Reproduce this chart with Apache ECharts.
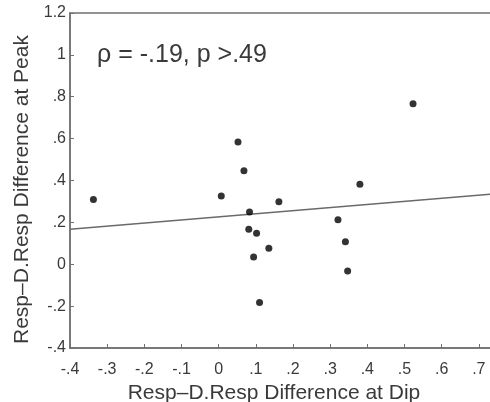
<!DOCTYPE html>
<html><head><meta charset="utf-8">
<script src="https://cdn.jsdelivr.net/npm/echarts@6/dist/echarts.min.js"></script>
<style>html,body{margin:0;padding:0;background:#fff}#c{width:490px;height:402px}</style>
</head><body><div id="c"></div>
<script>
const dipX = [-0.337, 0.007, 0.052, 0.068, 0.083, 0.081, 0.102, 0.094, 0.135, 0.110, 0.162, 0.321, 0.341, 0.347, 0.380, 0.523];
const peakY = [0.309, 0.326, 0.584, 0.447, 0.250, 0.167, 0.148, 0.035, 0.076, -0.183, 0.298, 0.212, 0.107, -0.032, 0.382, 0.766];
const fitX = [-0.4, 0.8];
const fitY = [0.167, 0.345];
const annotation = 'ρ = -.19, p >.49';
const xTitle = 'Resp–D.Resp Difference at Dip';
const yTitle = 'Resp–D.Resp Difference at Peak';

const fmt = v => {
  const r = Math.round(v * 10) / 10;
  if (r === 0) return '0';
  return String(r).replace('0.', '.');
};
const gray = '#707070';
const txt = '#3a3a3a';
const font = 'Liberation Sans, Arial, sans-serif';
const chart = echarts.init(document.getElementById('c'), null, {renderer: 'canvas'});
chart.setOption({
  animation: false,
  backgroundColor: '#fff',
  grid: {left: 70, top: 13, bottom: 54, right: -26, outerBoundsMode: 'none', containLabel: false,
         show: true, borderColor: gray, borderWidth: 1.5, backgroundColor: 'transparent'},
  xAxis: {
    type: 'value', min: -0.4, max: 0.8, interval: 0.1,
    name: xTitle, nameLocation: 'middle', nameGap: 27,
    nameTextStyle: {fontFamily: font, fontSize: 21, color: txt, padding: [0, 38, 0, 0]},
    axisLine: {show: true, onZero: false, lineStyle: {color: gray, width: 1.5}},
    axisTick: {show: true, inside: true, length: 4, lineStyle: {color: gray}},
    axisLabel: {formatter: fmt, fontFamily: font, fontSize: 16, color: txt, margin: 14},
    splitLine: {show: false}
  },
  yAxis: {
    type: 'value', min: -0.4, max: 1.2, interval: 0.2,
    name: yTitle, nameLocation: 'middle', nameGap: 37,
    nameTextStyle: {fontFamily: font, fontSize: 21, color: txt, padding: [0, 18, 0, 0]},
    axisLine: {show: true, onZero: false, lineStyle: {color: gray, width: 1.5}},
    axisTick: {show: true, inside: true, length: 4, lineStyle: {color: gray}},
    axisLabel: {formatter: fmt, fontFamily: font, fontSize: 16, color: txt, margin: 4},
    splitLine: {show: false}
  },
  graphic: [{type: 'text', left: 97, top: 43, style: {text: annotation, font: '25px ' + font, fill: txt}}],
  series: [
    {type: 'line', data: fitX.map((x, i) => [x, fitY[i]]), symbol: 'none', lineStyle: {color: '#6a6a6a', width: 1.5}, z: 1},
    {type: 'scatter', data: dipX.map((x, i) => [x, peakY[i]]), symbol: 'circle', symbolSize: 7, itemStyle: {color: '#000'}, z: 3}
  ]
});
</script></body></html>
